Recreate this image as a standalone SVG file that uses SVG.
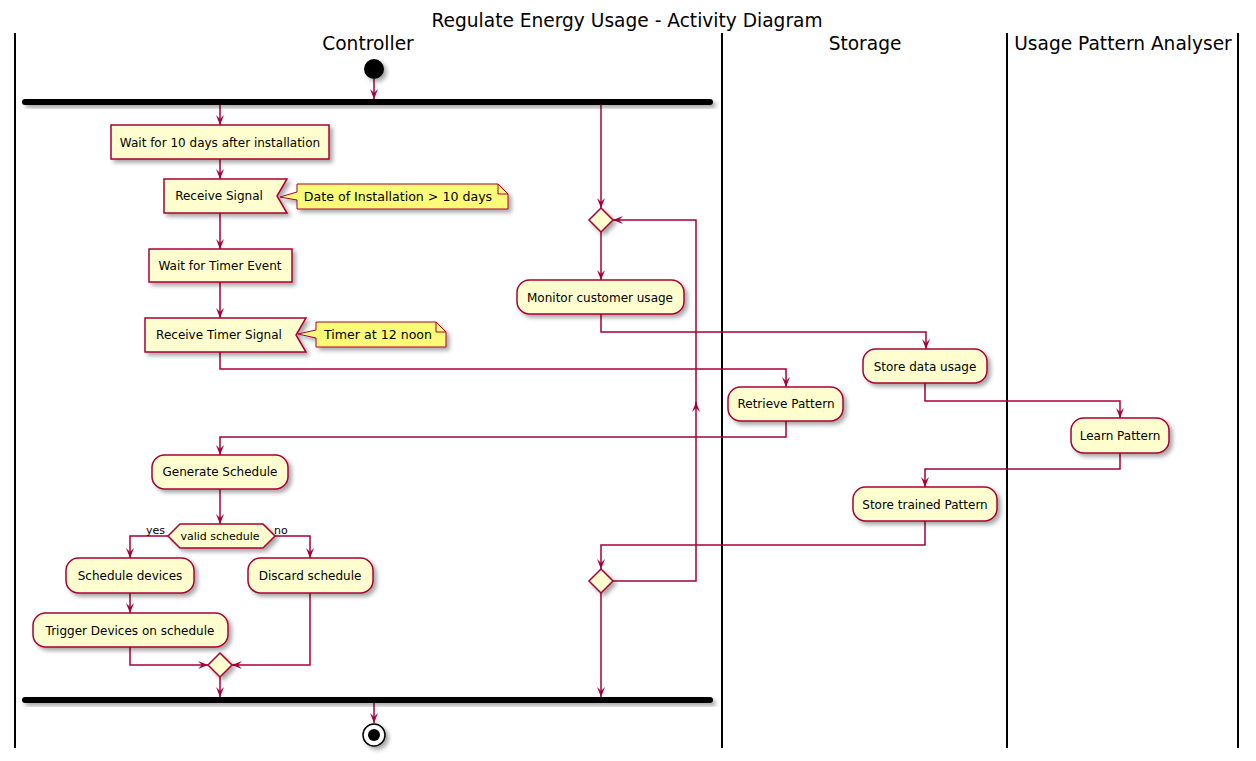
<svg xmlns="http://www.w3.org/2000/svg" width="1256" height="761" viewBox="0 0 1256 761">
<style>
.act{fill:#FEFECE;stroke:#A80036;stroke-width:1.5;filter:url(#sh);}
.note{fill:#FBFB77;stroke:#A80036;stroke-width:1;filter:url(#sh);}
.fold{fill:none;stroke:#A80036;stroke-width:1;}
.t{font-family:"DejaVu Sans",sans-serif;font-size:12px;fill:#000;text-anchor:middle;}
.nt{font-family:"DejaVu Sans",sans-serif;font-size:12.6px;fill:#000;text-anchor:middle;}
.s{font-family:"DejaVu Sans",sans-serif;font-size:11px;fill:#000;}
.h{font-family:"DejaVu Sans",sans-serif;font-size:18.6px;fill:#000;text-anchor:middle;}
.lane{stroke:#000;stroke-width:2;}
.bar{fill:#000;filter:url(#sh);}
#connectors path{fill:none;stroke:#A80036;stroke-width:1.5;marker-end:url(#arr);}
</style>
<defs>
<filter id="sh" x="-20%" y="-20%" width="150%" height="180%">
<feDropShadow dx="3" dy="3" stdDeviation="2" flood-color="#000" flood-opacity="0.35"/>
</filter>
<marker id="arr" viewBox="0 0 10 8" markerWidth="10" markerHeight="8" refX="10" refY="4" orient="auto" markerUnits="userSpaceOnUse">
<path d="M0,0 L10,4 L0,8 L4,4 Z" fill="#A80036"/>
</marker>
</defs>
<rect width="1256" height="761" fill="#fff"/>
<text x="627" y="27" class="h">Regulate Energy Usage - Activity Diagram</text>
<g id="lanes">
<line x1="15" y1="33" x2="15" y2="748" class="lane"/>
<line x1="722" y1="33" x2="722" y2="748" class="lane"/>
<line x1="1007" y1="33" x2="1007" y2="748" class="lane"/>
<line x1="1238" y1="33" x2="1238" y2="748" class="lane"/>
<text x="368" y="50" class="h">Controller</text>
<text x="865" y="50" class="h">Storage</text>
<text x="1123" y="50" class="h">Usage Pattern Analyser</text>
</g>
<g id="connectors">
<path d="M374,79 L374,99"/>
<path d="M220,105 L220,125"/>
<path d="M220,159 L220,179"/>
<path d="M220,213 L220,249"/>
<path d="M220,282 L220,318"/>
<path d="M220,352 L220,369 L786,369 L786,387"/>
<path d="M786,421 L786,437 L220,437 L220,455"/>
<path d="M220,489 L220,524"/>
<path d="M168,536 L130,536 L130,558"/>
<path d="M275,536 L310,536 L310,558"/>
<path d="M130,593 L130,613"/>
<path d="M130,647 L130,665 L208,665"/>
<path d="M310,593 L310,665 L232,665"/>
<path d="M220,677 L220,697"/>
<path d="M374,703 L374,723"/>
<path d="M601,105 L601,208"/>
<path d="M601,232 L601,280"/>
<path d="M601,314 L601,332 L926,332 L926,349"/>
<path d="M925,383 L925,401 L1120,401 L1120,418"/>
<path d="M1120,453 L1120,469 L925,469 L925,487"/>
<path d="M925,521 L925,545 L601,545 L601,569"/>
<path d="M613,581 L696,581 L696,402"/>
<path d="M696,404 L696,220 L613,220"/>
<path d="M601,593 L601,697"/>
</g>
<g id="start"><circle cx="374" cy="69" r="10" fill="#000" filter="url(#sh)"/></g>
<g id="fork"><rect x="22" y="99" width="691" height="6" rx="3" class="bar"/></g>
<g id="join"><rect x="22" y="697" width="691" height="6" rx="3" class="bar"/></g>
<g id="end"><circle cx="374" cy="735" r="11" fill="#fff" stroke="#000" stroke-width="1.5" filter="url(#sh)"/><circle cx="374" cy="735" r="6" fill="#000"/></g>
<g id="wait10"><rect x="111" y="125" width="218" height="34" class="act"/><text x="220" y="147" class="t">Wait for 10 days after installation</text></g>
<g id="receiveSignal"><polygon points="164,179 287,179 277,196 287,213 164,213" class="act"/><text x="219" y="200" class="t">Receive Signal</text></g>
<g id="note1"><path d="M297,184 L498,184 L508,194 L508,209 L297,209 L297,200 L280,197 L297,192 Z" class="note"/><path d="M498,184 L498,194 L508,194" class="fold"/><text x="398" y="201" class="nt">Date of Installation &gt; 10 days</text></g>
<g id="waitTimer"><rect x="149" y="249" width="143" height="33" class="act"/><text x="220" y="270" class="t">Wait for Timer Event</text></g>
<g id="receiveTimer"><polygon points="145,318 306,318 296,335 306,352 145,352" class="act"/><text x="219" y="339" class="t">Receive Timer Signal</text></g>
<g id="note2"><path d="M316,322 L436,322 L446,332 L446,347 L316,347 L316,338 L298,334 L316,330 Z" class="note"/><path d="M436,322 L436,332 L446,332" class="fold"/><text x="378" y="339" class="nt">Timer at 12 noon</text></g>
<g id="retrieve"><rect x="728" y="387" width="115" height="34" rx="12.5" class="act"/><text x="786" y="408" class="t">Retrieve Pattern</text></g>
<g id="generate"><rect x="152" y="455" width="136" height="34" rx="12.5" class="act"/><text x="220" y="476" class="t">Generate Schedule</text></g>
<g id="valid"><polygon points="168,536 180,524 263,524 275,536 263,548 180,548" class="act"/><text x="220" y="540" class="s" text-anchor="middle">valid schedule</text><text x="146" y="534" class="s">yes</text><text x="274" y="534" class="s">no</text></g>
<g id="scheduleDevices"><rect x="66" y="558" width="128" height="35" rx="12.5" class="act"/><text x="130" y="580" class="t">Schedule devices</text></g>
<g id="discard"><rect x="248" y="558" width="125" height="35" rx="12.5" class="act"/><text x="310" y="580" class="t">Discard schedule</text></g>
<g id="trigger"><rect x="33" y="613" width="195" height="34" rx="12.5" class="act"/><text x="130" y="635" class="t">Trigger Devices on schedule</text></g>
<g id="merge"><polygon points="220,653 232,665 220,677 208,665" class="act"/></g>
<g id="loopStart"><polygon points="601,208 613,220 601,232 589,220" class="act"/></g>
<g id="monitor"><rect x="517" y="280" width="167" height="34" rx="12.5" class="act"/><text x="600" y="302" class="t">Monitor customer usage</text></g>
<g id="storeData"><rect x="863" y="349" width="124" height="34" rx="12.5" class="act"/><text x="925" y="371" class="t">Store data usage</text></g>
<g id="learn"><rect x="1071" y="418" width="98" height="35" rx="12.5" class="act"/><text x="1120" y="440" class="t">Learn Pattern</text></g>
<g id="storeTrained"><rect x="853" y="487" width="144" height="34" rx="12.5" class="act"/><text x="925" y="509" class="t">Store trained Pattern</text></g>
<g id="loopEnd"><polygon points="601,569 613,581 601,593 589,581" class="act"/></g>
</svg>
